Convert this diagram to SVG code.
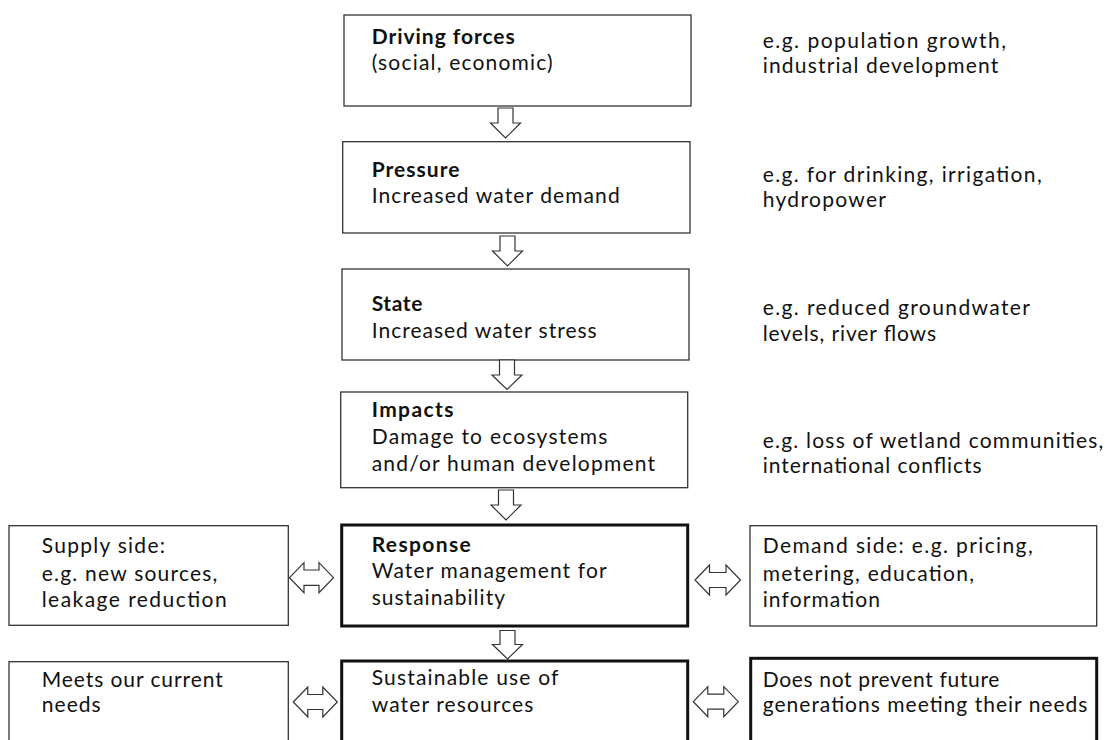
<svg xmlns="http://www.w3.org/2000/svg" width="1105" height="740" viewBox="0 0 1105 740">
<style>
  text { font-family: Lato, "Open Sans", "Liberation Sans", sans-serif; font-size: 21px; fill: #111; }
  .b { font-weight: 700; }
  .box { fill: #fff; stroke: #333; stroke-width: 1.3; }
  .thick { fill: #fff; stroke: #111; stroke-width: 3; }
  .arr { fill: #fff; stroke: #333; stroke-width: 1.2; stroke-linejoin: miter; }
</style>
<rect width="1105" height="740" fill="#fff"/>

<g id="driving">
  <rect class="box" x="344" y="15" width="347" height="91"/>
  <text x="371.7" y="44" class="b" textLength="143" lengthAdjust="spacing">Driving forces</text>
  <text x="371.7" y="70" textLength="181" lengthAdjust="spacing">(social, economic)</text>
</g>
<g id="pressure">
  <rect class="box" x="342.7" y="141.7" width="347.3" height="91.3"/>
  <text x="371.7" y="176.7" class="b" textLength="87.7" lengthAdjust="spacing">Pressure</text>
  <text x="371.7" y="203.3" textLength="248" lengthAdjust="spacing">Increased water demand</text>
</g>
<g id="state">
  <rect class="box" x="342" y="269" width="347" height="91"/>
  <text x="371.7" y="311" class="b" textLength="50.7" lengthAdjust="spacing">State</text>
  <text x="371.7" y="338.3" textLength="225" lengthAdjust="spacing">Increased water stress</text>
</g>
<g id="impacts">
  <rect class="box" x="340.7" y="392" width="347" height="95.7"/>
  <text x="371.7" y="416.7" class="b" textLength="81.7" lengthAdjust="spacing">Impacts</text>
  <text x="371.7" y="444" textLength="235.7" lengthAdjust="spacing">Damage to ecosystems</text>
  <text x="371.7" y="470.7" textLength="283.3" lengthAdjust="spacing">and/or human development</text>
</g>
<g id="response">
  <rect class="thick" x="341.7" y="525" width="346" height="101"/>
  <text x="371.7" y="551.7" class="b" textLength="99" lengthAdjust="spacing">Response</text>
  <text x="371.7" y="578.3" textLength="235" lengthAdjust="spacing">Water management for</text>
  <text x="371.7" y="605" textLength="133.3" lengthAdjust="spacing">sustainability</text>
</g>
<g id="sustainable">
  <rect class="thick" x="341.7" y="661" width="346" height="95"/>
  <text x="371.7" y="685" textLength="186.7" lengthAdjust="spacing">Sustainable use of</text>
  <text x="371.7" y="711.7" textLength="161.7" lengthAdjust="spacing">water resources</text>
</g>
<g id="supply">
  <rect class="box" x="9" y="525.7" width="279.3" height="99.6"/>
  <text x="41.7" y="553.3" textLength="123.3" lengthAdjust="spacing">Supply side:</text>
  <text x="41.7" y="580.7" textLength="175.7" lengthAdjust="spacing">e.g. new sources,</text>
  <text x="41.7" y="607.3" textLength="185" lengthAdjust="spacing">leakage reduction</text>
</g>
<g id="meets">
  <rect class="box" x="9" y="661.7" width="279.3" height="95"/>
  <text x="41.7" y="686.7" textLength="181" lengthAdjust="spacing">Meets our current</text>
  <text x="41.7" y="711.7" textLength="59" lengthAdjust="spacing">needs</text>
</g>
<g id="demand">
  <rect class="box" x="750" y="525.7" width="346.7" height="100.3"/>
  <text x="762.7" y="553.3" textLength="270" lengthAdjust="spacing">Demand side: e.g. pricing,</text>
  <text x="762.7" y="580.7" textLength="211.3" lengthAdjust="spacing">metering, education,</text>
  <text x="762.7" y="607.3" textLength="117.3" lengthAdjust="spacing">information</text>
</g>
<g id="future">
  <rect class="thick" x="750.7" y="658.3" width="346" height="95"/>
  <text x="762.7" y="686.7" textLength="236.7" lengthAdjust="spacing">Does not prevent future</text>
  <text x="762.7" y="711.7" textLength="324.7" lengthAdjust="spacing">generations meeting their needs</text>
</g>

<g id="notes">
  <text x="762.7" y="48.3" textLength="243.3" lengthAdjust="spacing">e.g. population growth,</text>
  <text x="762.7" y="73.3" textLength="235.7" lengthAdjust="spacing">industrial development</text>
  <text x="762.7" y="181.7" textLength="279" lengthAdjust="spacing">e.g. for drinking, irrigation,</text>
  <text x="762.7" y="207.3" textLength="123.3" lengthAdjust="spacing">hydropower</text>
  <text x="762.7" y="315" textLength="267.3" lengthAdjust="spacing">e.g. reduced groundwater</text>
  <text x="762.7" y="340.7" textLength="173.3" lengthAdjust="spacing">levels, river flows</text>
  <text x="762.7" y="448.3" textLength="340.7" lengthAdjust="spacing">e.g. loss of wetland communities,</text>
  <text x="762.7" y="473.3" textLength="219" lengthAdjust="spacing">international conflicts</text>
</g>

<g id="connectors">
  <path class="arr" d="M498,108 H513 V123 H520.5 L505.5,138 L490.5,123 H498 Z"/>
  <path class="arr" d="M500,236 H515 V251 H522.5 L507.5,266 L492.5,251 H500 Z"/>
  <path class="arr" d="M499.5,360 H514.5 V375 H522 L507,389.5 L492,375 H499.5 Z"/>
  <path class="arr" d="M498.5,490 H513.5 V505 H521 L506,520 L491,505 H498.5 Z"/>
  <path class="arr" d="M500,630.5 H515 V644.5 H522.5 L507.5,659 L492.5,644.5 H500 Z"/>
  <path class="arr" d="M289.5,577.7 L304,562.7 V570 H319 V562.7 L333.5,577.7 L319,592.7 V585.4 H304 V592.7 Z"/>
  <path class="arr" d="M695,580 L709.5,565 V572.5 H726 V565 L740.5,580 L726,595 V587.5 H709.5 V595 Z"/>
  <path class="arr" d="M293.3,702 L307.8,687 V694.5 H322.8 V687 L337.3,702 L322.8,717 V709.5 H307.8 V717 Z"/>
  <path class="arr" d="M693.3,701.7 L707.8,686.7 V694.2 H723.8 V686.7 L738.3,701.7 L723.8,716.7 V709.2 H707.8 V716.7 Z"/>
</g>
</svg>
